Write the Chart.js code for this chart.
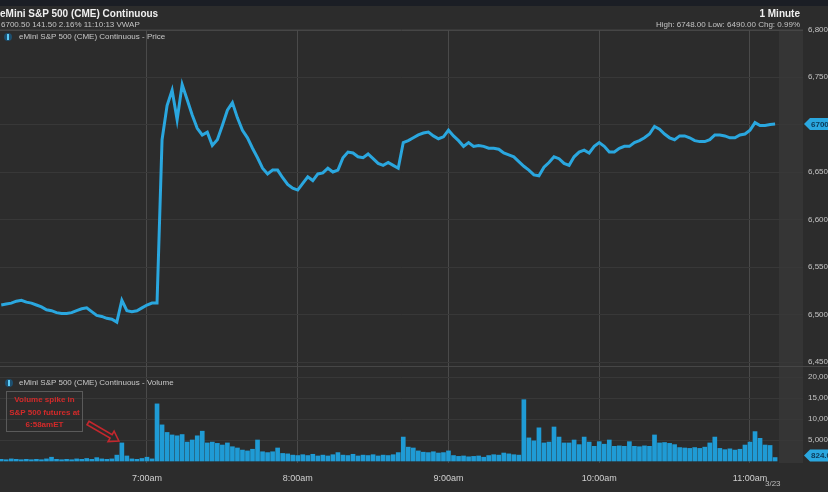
<!DOCTYPE html>
<html lang="en">
<head>
<meta charset="UTF-8">
<title>eMini S&amp;P 500 (CME) Continuous</title>
<script src="https://cdn.jsdelivr.net/npm/chart.js"></script>
<style>
  body { margin: 0; width: 828px; height: 492px; overflow: hidden; background: #2c2c2c;
         font-family: "Liberation Sans", Arial, sans-serif; }
  #wrap { position: relative; width: 828px; height: 492px; overflow: hidden; }
  #chart { position: absolute; left: 0; top: 0; }
  .txt { position: absolute; white-space: nowrap; line-height: 1; }
  .strip { position: absolute; left: 0; top: 0; width: 828px; height: 6px; background: #1b1e25; }
  .icon { position: absolute; width: 8px; height: 8px; border-radius: 50%; background: #1d4f6f; }
  .icon i { position: absolute; left: 3px; top: 1px; width: 2px; height: 6px; background: #5ccaf5; }
  #note { position: absolute; left: 6px; top: 391px; width: 77px; height: 41px; border: 1px solid #5a5a5a;
          color: #d32a2a; font-weight: bold; font-size: 8px; line-height: 12.5px; text-align: center;
          padding-top: 2px; box-sizing: border-box; }
</style>
</head>
<body>
<div id="wrap">
  <canvas id="chart" width="850" height="492"></canvas>
  <div class="strip"></div>
  <div class="txt" style="left:0;top:9px;font-size:10px;font-weight:bold;color:#f0f0f0">eMini S&amp;P 500 (CME) Continuous</div>
  <div class="txt" style="left:1px;top:21px;font-size:8px;color:#c4c4c4">6700.50 141.50 2.16% 11:10:13 VWAP</div>
  <div class="txt" style="right:28px;top:9px;font-size:10px;font-weight:bold;color:#f0f0f0">1 Minute</div>
  <div class="txt" style="right:28px;top:21px;font-size:8px;color:#c4c4c4">High: 6748.00 Low: 6490.00 Chg: 0.99%</div>
  <div class="icon" style="left:4px;top:33px"><i></i></div>
  <div class="txt" style="left:19px;top:33px;font-size:8px;color:#c8c8c8">eMini S&amp;P 500 (CME) Continuous - Price</div>
  <div class="icon" style="left:5px;top:379px"><i></i></div>
  <div class="txt" style="left:19px;top:379px;font-size:8px;color:#c8c8c8">eMini S&amp;P 500 (CME) Continuous - Volume</div>
  <div id="note">Volume spike in<br>S&amp;P 500 futures at<br>6:58amET</div>
  <div class="txt" style="left:765px;top:480px;font-size:8px;color:#bdbdbd">3/23</div>
</div>
<script>
// minutes after 6:00am, one reading every 2 minutes
const price = [
  6510, 6511, 6512, 6514, 6515, 6513, 6512, 6510, 6508, 6505,
  6504, 6502, 6501, 6501, 6502, 6504, 6506, 6507, 6503, 6499,
  6498, 6496, 6495, 6492, 6515, 6504, 6503, 6504, 6507, 6510,
  6512, 6512, 6684, 6720, 6736, 6705, 6742, 6726, 6710, 6696,
  6689, 6692, 6678, 6684, 6699, 6715, 6723, 6707, 6694, 6686,
  6675, 6665, 6654, 6648, 6652, 6652, 6644, 6637, 6633, 6631,
  6638, 6645, 6641, 6648, 6649, 6654, 6650, 6652, 6665, 6671,
  6670, 6666, 6665, 6669, 6664, 6659, 6657, 6660, 6657, 6654,
  6681, 6683, 6686, 6689, 6691, 6692, 6688, 6685, 6687, 6694,
  6688, 6683, 6677, 6681, 6677, 6678, 6677, 6675, 6675, 6674,
  6670, 6668, 6666, 6661, 6656, 6652, 6647, 6646, 6655, 6660,
  6666, 6664, 6659, 6657, 6666, 6671, 6673, 6670, 6677, 6681,
  6677, 6671, 6671, 6675, 6677, 6677, 6681, 6683, 6686, 6690,
  6698, 6695, 6690, 6686, 6684, 6688, 6688, 6686, 6683, 6682,
  6682, 6684, 6689, 6689, 6688, 6686, 6686, 6689, 6690, 6694,
  6702, 6699, 6699, 6700, 6700.5
];
const volume = [
  400, 300, 500, 400, 300, 400, 300, 400, 300, 500,
  900, 400, 300, 400, 300, 500, 400, 600, 400, 800,
  500, 400, 500, 1400, 4300, 1200, 500, 400, 600, 900,
  500, 13600, 8600, 6800, 6200, 6000, 6300, 4500, 5000, 6000,
  7100, 4300, 4500, 4200, 3800, 4300, 3400, 3100, 2600, 2400,
  2800, 5000, 2200, 2000, 2200, 3100, 1800, 1700, 1400, 1300,
  1500, 1300, 1600, 1200, 1400, 1200, 1500, 2000, 1400, 1300,
  1600, 1200, 1400, 1300, 1500, 1200, 1400, 1300, 1500, 2000,
  5700, 3300, 3100, 2400, 2100, 2000, 2200, 1900, 2000, 2400,
  1300, 1100, 1200, 1000, 1100, 1200, 900, 1300, 1500, 1400,
  1900, 1700, 1500, 1400, 14600, 5500, 4800, 7900, 4300, 4500,
  8100, 5700, 4300, 4300, 5000, 3900, 5700, 4500, 3500, 4600,
  4000, 5000, 3500, 3600, 3500, 4600, 3500, 3400, 3600, 3500,
  6200, 4300, 4400, 4200, 3900, 3200, 3100, 3000, 3200, 3000,
  3300, 4300, 5700, 3000, 2700, 2900, 2600, 2800, 3800, 4500,
  7000, 5400, 3800, 3700, 824
];
const times = price.map((_, i) => 2 + 2 * i);

const hourTicks = [60, 120, 180, 240, 300];
const hourLabels = ['7:00am', '8:00am', '9:00am', '10:00am', '11:00am'];
const priceTicks = [6450, 6500, 6550, 6600, 6650, 6700, 6750, 6800];
const volumeTicks = [5000, 10000, 15000, 20000];
const spikeMinute = 50;   // bar marked by the note

const blue = '#2aa7df';
const fmt = v => v.toLocaleString('en-US');

const panels = {
  id: 'panels',
  beforeDraw(chart) {
    const { ctx, chartArea: a, scales } = chart;
    ctx.save();
    ctx.fillStyle = '#2c2c2c';
    ctx.fillRect(0, 0, chart.width, chart.height);
    const xs = scales.x.getPixelForValue(times[times.length - 1] + 1.5);
    ctx.fillStyle = '#353535';
    ctx.fillRect(xs, a.top, a.right - xs, a.bottom - a.top);
    ctx.strokeStyle = '#464646';
    ctx.lineWidth = 1;
    ctx.beginPath();
    ctx.moveTo(0, Math.round(a.top) + 0.5); ctx.lineTo(a.right, Math.round(a.top) + 0.5);
    const sep = Math.round(scales.yp.bottom) + 0.5;
    ctx.moveTo(0, sep); ctx.lineTo(chart.width, sep);
    ctx.stroke();
    ctx.restore();
  },
  afterDraw(chart) {
    const { ctx, chartArea: a, scales } = chart;
    ctx.save();
    // last value tags
    const tag = (y, text) => {
      ctx.fillStyle = blue;
      ctx.beginPath();
      ctx.moveTo(a.right + 1, y);
      ctx.lineTo(a.right + 7, y - 6);
      ctx.lineTo(chart.width, y - 6);
      ctx.lineTo(chart.width, y + 6);
      ctx.lineTo(a.right + 7, y + 6);
      ctx.closePath();
      ctx.fill();
      ctx.fillStyle = '#0e3a57';
      ctx.font = 'bold 8px "Liberation Sans", Arial, sans-serif';
      ctx.textBaseline = 'middle';
      ctx.fillText(text, a.right + 8, y + 0.5);
    };
    tag(scales.yp.getPixelForValue(price[price.length - 1]), '6700.50');
    tag(scales.yv.getPixelForValue(volume[volume.length - 1]) - 2, '824.00');

    // arrow from the note to the marked volume bar
    const i = times.indexOf(spikeMinute);
    const tx = scales.x.getPixelForValue(spikeMinute) - 3;
    const ty = scales.yv.getPixelForValue(volume[i]) - 2;
    const sx = 88, sy = 423;
    const ang = Math.atan2(ty - sy, tx - sx);
    const len = Math.hypot(tx - sx, ty - sy);
    ctx.translate(sx, sy);
    ctx.rotate(ang);
    ctx.strokeStyle = '#c3272d';
    ctx.lineWidth = 1.6;
    ctx.beginPath();
    ctx.moveTo(0, -2); ctx.lineTo(len - 9, -2); ctx.lineTo(len - 9, -6);
    ctx.lineTo(len, 0);
    ctx.lineTo(len - 9, 6); ctx.lineTo(len - 9, 2); ctx.lineTo(0, 2); ctx.closePath();
    ctx.stroke();
    ctx.restore();
  }
};

new Chart(document.getElementById('chart'), {
  type: 'bar',
  data: {
    datasets: [
      {
        type: 'line',
        data: times.map((t, i) => ({ x: t, y: price[i] })),
        yAxisID: 'yp',
        borderColor: blue,
        borderWidth: 3,
        pointRadius: 0,
        tension: 0,
        order: 1
      },
      {
        type: 'bar',
        data: times.map((t, i) => ({ x: t, y: volume[i] })),
        yAxisID: 'yv',
        backgroundColor: '#1f9bd5',
        barThickness: 4,
        order: 2
      }
    ]
  },
  options: {
    responsive: false,
    devicePixelRatio: 1,
    animation: false,
    layout: { padding: { top: 29.5, left: 0, right: 0, bottom: 0 } },
    plugins: { legend: { display: false }, tooltip: { enabled: false } },
    scales: {
      x: {
        type: 'linear',
        min: 1.5,
        max: 321.1,
        offset: false,
        afterFit: s => { s.height = 29; },
        afterBuildTicks: s => { s.ticks = hourTicks.map(v => ({ value: v })); },
        grid: { color: '#4a4a4a', drawTicks: false, offset: false },
        border: { display: false },
        ticks: {
          padding: 10,
          color: '#d0d0d0',
          font: { size: 9, family: '"Liberation Sans", Arial, sans-serif' },
          maxRotation: 0,
          callback: v => hourLabels[hourTicks.indexOf(v)]
        }
      },
      yp: {
        type: 'linear',
        position: 'right',
        stack: 'panes',
        stackWeight: 336.5,
        min: 6445.8,
        max: 6800,
        afterFit: s => { s.width = 47; },
        afterBuildTicks: s => { s.ticks = priceTicks.map(v => ({ value: v })); },
        grid: { color: '#383838', drawTicks: false },
        border: { display: false },
        ticks: {
          padding: 5,
          color: '#c4c4c4',
          font: { size: 8, family: '"Liberation Sans", Arial, sans-serif' },
          callback: fmt
        }
      },
      yv: {
        type: 'linear',
        position: 'right',
        stack: 'panes',
        stackWeight: 97,
        min: -476,
        max: 22620,
        afterFit: s => { s.width = 47; },
        afterBuildTicks: s => { s.ticks = volumeTicks.map(v => ({ value: v })); },
        grid: { color: '#383838', drawTicks: false },
        border: { display: false },
        ticks: {
          padding: 5,
          color: '#c4c4c4',
          font: { size: 8, family: '"Liberation Sans", Arial, sans-serif' },
          callback: fmt
        }
      }
    }
  },
  plugins: [panels]
});
</script>
</body>
</html>
